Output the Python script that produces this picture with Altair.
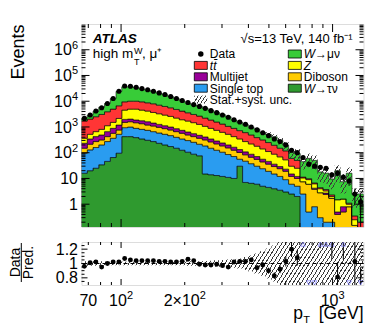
import math
import numpy as np
import pandas as pd
import altair as alt

FONT = "Liberation Sans"

# ---------------- data ----------------
edges = [65.0, 69.2, 73.68, 78.44, 83.51, 88.91, 94.66, 100.77, 107.29, 114.23,
         121.61, 129.47, 137.84, 146.75, 156.24, 166.34, 177.10, 188.55, 200.74, 213.71,
         227.53, 242.24, 257.90, 274.57, 292.33, 311.22, 331.35, 352.77, 375.57, 399.86,
         425.71, 453.23, 482.53, 513.72, 546.94, 582.30, 619.94, 660.02, 702.69, 748.12,
         796.49, 847.98, 902.80, 961.17, 1023.31, 1089.46, 1159.90, 1234.89, 1314.72, 1400.0]

w_tau = [16, 20, 25, 34, 46, 65, 96, 422, 422, 386,
         344, 305, 271, 233, 201, 174, 150, 125, 105, 88,
         76, 15, 14, 13, 12, 11, 10, 30, 7, 6.5,
         6, 5, 4.5, 4, 3.5, 3, 2.5, 2, 0, 0,
         0, 0, 0, 0, 0, 0, 0, 0, 0]
single_top = [80, 109, 134, 167, 225, 299, 424, 518, 575, 499,
              466, 436, 388, 352, 319, 287, 248, 218, 191, 167,
              138, 169, 136, 112, 93, 74, 61, 26, 40, 31,
              24, 19, 14.5, 11, 8.5, 6, 3.5, 3, 2.5, 0.5,
              0.8, 0.3, 0.2, 0.2, 0.1, 0, 0, 0, 0]
diboson = [54, 85, 112, 113, 151, 204, 243, 570, 603, 575,
           530, 449, 431, 383, 340, 302, 261, 225, 194, 167,
           150, 130, 113, 95, 79, 69, 54, 46, 36, 29,
           25, 20, 17, 14, 12, 10, 6, 5, 5, 5.5,
           3, 2.5, 2.2, 1.5, 0.3, 0.5, 0.8, 0.15, 0.12]
multijet = [83, 129, 151, 176, 237, 317, 427, 460, 430, 410,
            410, 410, 330, 292, 260, 234, 201, 173, 150, 129,
            111, 96, 80, 67, 56, 47, 39, 31, 25, 21,
            16, 12, 10, 7, 5, 4, 3, 2, 0, 0,
            0.4, 0, 0.3, 0, 0.1, 0.3, 0, 0, 0]
z_jets = [131, 177, 237, 320, 461, 625, 960, 2550, 2910, 3070,
          2770, 2550, 2240, 2000, 1780, 1583, 1360, 1169, 1060, 919,
          785, 650, 542, 454, 381, 319, 258, 210, 163, 132,
          108, 85, 65, 52, 40, 30, 15, 13, 3, 3,
          2, 1.2, 0.6, 0.3, 1.0, 0.8, 0.2, 0.1, 0]
ttbar = [1336, 1510, 1841, 2260, 2780, 3430, 4490, 4960, 5120, 5120,
         4960, 4550, 4300, 3790, 3370, 2980, 2580, 2220, 1860, 1600,
         1390, 1160, 975, 819, 679, 540, 463, 377, 332, 270,
         207, 173, 137, 107, 81, 65, 30, 25, 0.8, 0.8,
         0.5, 0.4, 0.4, 0.3, 0, 0, 0.1, 0.1, 0.08]
w_mu = [540, 840, 1570, 2780, 4250, 7510, 17360, 26970, 26140, 23590,
        20320, 18000, 15590, 13350, 11500, 9440, 7650, 6170, 4840, 4050,
        3710, 3180, 2530, 2080, 1690, 1435, 975, 795, 630, 462,
        434, 298, 263, 218, 145, 77, 44, 43, 33.7, 50.2,
        43.3, 13.6, 12.3, 7.2, 18.3, 5.9, 14.9, 2.05, 2.3]
ratio = [0.96, 1.01, 1.02, 0.95, 1.00, 1.02, 1.02, 1.07, 1.05, 1.04,
         1.04, 1.04, 1.04, 1.03, 1.03, 1.02, 1.02, 1.03, 1.06, 1.04,
         0.99, 0.98, 0.98, 0.99, 0.97, 0.95, 1.02, 1.03, 1.03, 1.05,
         0.94, 0.98, 0.90, 0.83, 0.92, 1.03, 1.20, 1.08, 1.45, 0.60,
         0.60, 1.50, 1.55, 1.45, 0.81, 1.50, 0.50, 1.03, 0.50]
unc = [0.03, 0.03, 0.03, 0.03, 0.025, 0.025, 0.025, 0.025, 0.025, 0.025,
       0.025, 0.025, 0.025, 0.025, 0.025, 0.025, 0.025, 0.025, 0.03, 0.03,
       0.03, 0.035, 0.04, 0.045, 0.05, 0.055, 0.06, 0.07, 0.09, 0.11,
       0.14, 0.17, 0.21, 0.25, 0.30, 0.35, 0.40, 0.45, 0.50, 0.55,
       0.55, 0.60, 0.60, 0.60, 0.65, 0.65, 0.65, 0.70, 0.70]

names = ["W→τν", "Single top", "Diboson", "Multijet", "Z", "tt̄", "W→μν"]  # bottom -> top
colors = ["#2f9a2f", "#2a9cf0", "#ffcc00", "#990099", "#ffff00", "#ff3535", "#38cc38"]
series = [w_tau, single_top, diboson, multijet, z_jets, ttbar, w_mu]

# tick labels: (value, base text, exponent)
y_labels = [(1, "1", ""), (10, "10", ""), (100, "10", "2"), (1e3, "10", "3"),
            (1e4, "10", "4"), (1e5, "10", "5"), (1e6, "10", "6")]
x_labels = [(70, "70", ""), (100, "10", "2"), (200, "2×10", "2"), (1000, "10", "3")]
r_labels = [(0.8, "0.8"), (1.0, "1"), (1.2, "1.2")]

# ---------------- geometry ----------------
W, H, HR = 282, 203, 43
XMIN, XMAX = 65, 1400
YMIN, YMAX = 0.13, 1e7
RMIN, RMAX = 0.7, 1.3
LAB = 16      # tick label font size
EXP = 11      # exponent font size

nb = len(edges) - 1
for s in series + [ratio, unc]:
    assert len(s) == nb, len(s)

xs = alt.Scale(type="log", domain=[XMIN, XMAX], nice=False)
ys = alt.Scale(type="log", domain=[YMIN, YMAX], nice=False)
rs = alt.Scale(domain=[RMIN, RMAX], nice=False, zero=False)


def XF(f):
    return alt.X(f, scale=xs, axis=None)


def YM(f, **kw):
    return alt.Y(f, scale=ys, axis=None, **kw)


def YR(f, **kw):
    return alt.Y(f, scale=rs, axis=None, **kw)


lo_e = np.array(edges[:-1])
hi_e = np.array(edges[1:])
centers = np.sqrt(lo_e * hi_e)

rows = []
cum = np.zeros(nb)
for name, vals in zip(names, series):
    v = np.asarray(vals, float)
    bot = cum.copy()
    top = cum + v
    for i in range(nb + 1):
        j = min(i, nb - 1)
        rows.append({"comp": name, "x": edges[i], "lo": max(bot[j], 1e-3), "hi": max(top[j], 1e-3)})
    cum = top
stack_df = pd.DataFrame(rows)
total = cum

data = np.asarray(ratio) * total
err = np.sqrt(data)
u = np.asarray(unc)

pts = pd.DataFrame({
    "x": centers,
    "d": data,
    "dlo": np.maximum(data - err, 1e-3),
    "dhi": data + err,
    "r": ratio,
    "rlo": np.asarray(ratio) - err / total,
    "rhi": np.asarray(ratio) + err / total,
})

band_rows = []
for i in range(nb + 1):
    j = min(i, nb - 1)
    band_rows.append({
        "x": edges[i],
        "lo": float(np.clip(total[j] * (1 - u[j]), YMIN, YMAX)),
        "hi": float(np.clip(total[j] * (1 + u[j]), YMIN, YMAX)),
        "rlo": float(np.clip(1 - u[j], RMIN, RMAX)),
        "rhi": float(np.clip(1 + u[j], RMIN, RMAX)),
    })
band_df = pd.DataFrame(band_rows)


def py_main(v):
    return (math.log10(YMAX) - math.log10(v)) / (math.log10(YMAX) - math.log10(YMIN)) * H


def hatch(w, h, spacing=4.0, lw=0.9, angle=58, color="#3a3a3a"):
    th = math.radians(angle)
    A = w * math.sin(th)
    B = h * math.cos(th)
    k = (A + B) / (A * A + B * B)
    D = A + B
    perp = spacing * math.sin(th)
    n = max(1, int(D / perp))
    f = lw / D
    clear = "rgba(255,255,255,0)"
    stops = []
    for i in range(n):
        o = i / n
        o2 = min(o + f, 1.0)
        stops += [
            {"offset": o, "color": color},
            {"offset": o2, "color": color},
            {"offset": o2, "color": clear},
            {"offset": (i + 1) / n, "color": clear},
        ]
    return {"gradient": "linear", "stops": stops, "x1": 0, "y1": 0, "x2": k * A, "y2": k * B}


h_main = py_main(band_df["lo"].min()) - py_main(band_df["hi"].max())
h_ratio = (band_df["rhi"].max() - band_df["rlo"].min()) / (RMAX - RMIN) * HR

one = pd.DataFrame({"a": [0]})


def txt(s, x, y, size=13, align="left", baseline="alphabetic", angle=None,
        style="normal", weight="normal", color="black"):
    kw = dict(align=align, baseline=baseline, fontSize=size, font=FONT,
              fontStyle=style, fontWeight=weight, color=color, text=s)
    if angle is not None:
        kw["angle"] = angle
    return alt.Chart(one).mark_text(**kw).encode(x=alt.value(x), y=alt.value(y))


def box(x0, y0, w, h, fill, stroke="black"):
    kw = dict(fill=fill, strokeWidth=0.8)
    if stroke:
        kw["stroke"] = stroke
    return alt.Chart(one).mark_rect(**kw).encode(
        x=alt.value(x0), x2=alt.value(x0 + w), y=alt.value(y0), y2=alt.value(y0 + h))


def yticks(vals, Yf, length, width):
    df = pd.DataFrame({"v": vals})
    base = alt.Chart(df).mark_rule(color="black", strokeWidth=1)
    return [
        base.encode(y=Yf("v:Q"), x=alt.value(0), x2=alt.value(length)),
        base.encode(y=Yf("v:Q"), x=alt.value(width - length), x2=alt.value(width)),
    ]


def xticks(vals, length, height):
    df = pd.DataFrame({"v": vals})
    base = alt.Chart(df).mark_rule(color="black", strokeWidth=1)
    return [
        base.encode(x=XF("v:Q"), y=alt.value(0), y2=alt.value(length)),
        base.encode(x=XF("v:Q"), y=alt.value(height - length), y2=alt.value(height)),
    ]


CW = {"0": 0.556, "1": 0.556, "2": 0.556, "3": 0.556, "4": 0.556, "5": 0.556,
      "6": 0.556, "7": 0.556, "8": 0.556, "9": 0.556, "×": 0.584, ".": 0.278}


def tw(s, size):
    return sum(CW.get(c, 0.556) for c in s) * size


def y_label_layers(labels, Yf):
    out = []
    for v, base, ex in labels:
        df = pd.DataFrame({"v": [v]})
        ew = tw(ex, EXP) if ex else 0.0
        out.append(alt.Chart(df).mark_text(
            text=base, align="right", baseline="alphabetic", fontSize=LAB, font=FONT,
            color="black", dx=-(3.5 + ew), dy=5.6).encode(y=Yf("v:Q"), x=alt.value(0)))
        if ex:
            out.append(alt.Chart(df).mark_text(
                text=ex, align="right", baseline="alphabetic", fontSize=EXP, font=FONT,
                color="black", dx=-3.5, dy=-1.0).encode(y=Yf("v:Q"), x=alt.value(0)))
    return out


def x_label_layers(labels, ybase):
    out = []
    for v, base, ex in labels:
        df = pd.DataFrame({"v": [v]})
        bw = tw(base, LAB)
        ew = tw(ex, EXP) if ex else 0.0
        left = -(bw + ew) / 2
        out.append(alt.Chart(df).mark_text(
            text=base, align="left", baseline="alphabetic", fontSize=LAB, font=FONT,
            color="black", dx=left).encode(x=XF("v:Q"), y=alt.value(ybase)))
        if ex:
            out.append(alt.Chart(df).mark_text(
                text=ex, align="left", baseline="alphabetic", fontSize=EXP, font=FONT,
                color="black", dx=left + bw).encode(x=XF("v:Q"), y=alt.value(ybase - 7.5)))
    return out


y_major = [v for v in [0.1, 1, 10, 100, 1e3, 1e4, 1e5, 1e6] if YMIN < v < YMAX]
y_minor = [m * 10.0 ** e for e in range(-1, 7) for m in range(2, 10) if YMIN < m * 10.0 ** e < YMAX]
x_major = [100, 1000]
x_minor = [70, 80, 90, 200, 300, 400, 500, 600, 700, 800, 900]
r_major = [0.8, 1.0, 1.2]
r_minor = [0.75, 0.85, 0.9, 0.95, 1.05, 1.1, 1.15, 1.25]

# ---------------- main panel ----------------
stack = alt.Chart(stack_df).mark_area(
    interpolate="step-after", stroke="black", strokeWidth=0.6, clip=True, fillOpacity=1
).encode(
    x=XF("x:Q"),
    y=YM("hi:Q", stack=None),
    y2="lo:Q",
    color=alt.Color("comp:N", scale=alt.Scale(domain=names, range=colors), legend=None),
)

band_main = alt.Chart(band_df).mark_area(
    interpolate="step-after", clip=True, fill=hatch(W, h_main), strokeWidth=0
).encode(x=XF("x:Q"), y=YM("hi:Q"), y2="lo:Q")

main_err = alt.Chart(pts).mark_rule(color="black", strokeWidth=1, clip=True).encode(
    x=XF("x:Q"), y=YM("dlo:Q"), y2="dhi:Q")
main_pts = alt.Chart(pts).mark_circle(color="black", size=26, opacity=1, clip=True).encode(
    x=XF("x:Q"), y=YM("d:Q"))

# legend (column x positions, row y positions in plot pixels)
LX1, LX2, LY0, LDY = 112.8, 206.8, 30.0, 11.4
SW, SH = 13, 8
leg = []
left_entries = [("Data", None), ("tt̄", "#ff3535"), ("Multijet", "#990099"), ("Single top", "#2a9cf0"),
                ("Stat.+syst. unc.", "hatch")]
right_entries = [("W|→μν", "#38cc38"), ("Z|", "#ffff00"), ("Diboson", "#ffcc00"), ("W|→τν", "#2f9a2f")]
for i, (lab, col) in enumerate(left_entries):
    yc = LY0 + i * LDY
    if col is None:
        leg.append(alt.Chart(one).mark_circle(color="black", size=30, opacity=1).encode(
            x=alt.value(LX1 + SW / 2), y=alt.value(yc)))
    elif col == "hatch":
        leg.append(box(LX1, yc - SH / 2, SW, SH, hatch(SW, SH, spacing=3.5, lw=0.9), stroke=None))
    else:
        leg.append(box(LX1, yc - SH / 2, SW, SH, col))
    style = "italic" if lab == "tt̄" else "normal"
    leg.append(txt(lab, LX1 + SW + 2.5, yc + 4.3, size=12, style=style))
for i, (lab, col) in enumerate(right_entries):
    yc = LY0 + i * LDY
    leg.append(box(LX2, yc - SH / 2, SW, SH, col))
    if "|" in lab:
        a, b = lab.split("|")
        leg.append(txt(a, LX2 + SW + 2.5, yc + 4.3, size=12, style="italic"))
        if b:
            leg.append(txt(b, LX2 + SW + 2.5 + 11.3, yc + 4.3, size=12))
    else:
        leg.append(txt(lab, LX2 + SW + 2.5, yc + 4.3, size=12))

labels_main = [
    txt("ATLAS", 11.2, 18.8, size=13.5, style="italic", weight="bold"),
    txt("√s=13 TeV, 140 fb⁻¹", 271, 18.8, size=13, align="right"),
    txt("high m", 11.2, 33.8, size=13.5),
    txt("W", 52.6, 30.2, size=9),
    txt("T", 52.6, 40.5, size=9),
    txt(", μ⁺", 60.5, 33.8, size=13.5),
    txt("Events", -57.5, 0.5, size=18, align="right", angle=270),
]

# invisible anchor that fixes the outer layout (left / top extent)
anchor = alt.Chart(one).mark_rule(opacity=0, strokeWidth=0).encode(
    x=alt.value(-80), y=alt.value(-14.7), y2=alt.value(0))

main = alt.layer(
    stack, band_main, main_err, main_pts,
    *yticks(y_major, YM, 8, W), *yticks(y_minor, YM, 4, W),
    *xticks(x_major, 8, H), *xticks(x_minor, 4, H),
    *leg, *labels_main, *y_label_layers(y_labels, YM), anchor,
).properties(width=W, height=H)

# ---------------- ratio panel ----------------
band_r = alt.Chart(band_df).mark_area(
    interpolate="step-after", clip=True, fill=hatch(W, h_ratio), strokeWidth=0
).encode(x=XF("x:Q"), y=YR("rhi:Q"), y2="rlo:Q")
one_line = alt.Chart(pd.DataFrame({"v": [1.0]})).mark_rule(
    color="black", strokeWidth=1, strokeDash=[4, 3]
).encode(y=YR("v:Q"), x=alt.value(0), x2=alt.value(W))
r_err = alt.Chart(pts).mark_rule(color="black", strokeWidth=1, clip=True).encode(
    x=XF("x:Q"), y=YR("rlo:Q"), y2="rhi:Q")
r_pts = alt.Chart(pts).mark_circle(color="black", size=24, opacity=1, clip=True).encode(
    x=XF("x:Q"), y=YR("r:Q"))
up_df = pts[pts["r"] > RMAX].assign(t=1.27)
dn_df = pts[pts["r"] < RMIN].assign(t=0.73)
tri_up = alt.Chart(up_df).mark_point(shape="triangle-up", filled=False, color="#7878ff", size=22,
                                     strokeWidth=1).encode(x=XF("x:Q"), y=YR("t:Q"))
tri_dn = alt.Chart(dn_df).mark_point(shape="triangle-down", filled=False, color="#7878ff", size=22,
                                     strokeWidth=1).encode(x=XF("x:Q"), y=YR("t:Q"))

frac = [
    txt("Data", -62, 20.5, size=14, align="center", angle=270),
    alt.Chart(one).mark_rule(color="black", strokeWidth=1).encode(
        x=alt.value(-60.2), y=alt.value(1), y2=alt.value(40)),
    txt("Pred.", -48.6, 20.5, size=14, align="center", angle=270),
]
xtitle = [
    txt("p", 221.5, 77, size=17.5, align="right"),
    txt("T", 221.8, 81.5, size=11),
    txt("[GeV]", 282, 77, size=17.5, align="right"),
]
r_lab_layers = y_label_layers([(v, s, "") for v, s in r_labels], YR)

ratio_chart = alt.layer(
    band_r, one_line, r_err, r_pts, tri_up, tri_dn,
    *yticks(r_major, YR, 6, W), *yticks(r_minor, YR, 3, W),
    *xticks(x_major, 6, HR), *xticks(x_minor, 3, HR),
    *frac, *xtitle, *r_lab_layers, *x_label_layers(x_labels, HR + 21),
).properties(width=W, height=HR)

chart = alt.vconcat(main, ratio_chart, spacing=11).properties(
    padding={"left": -7.5, "top": 0, "right": 5, "bottom": 0}
).configure_view(stroke="black", strokeWidth=1).configure(background="white")

chart.save("out.html", embed_options={"renderer": "svg", "actions": False})
